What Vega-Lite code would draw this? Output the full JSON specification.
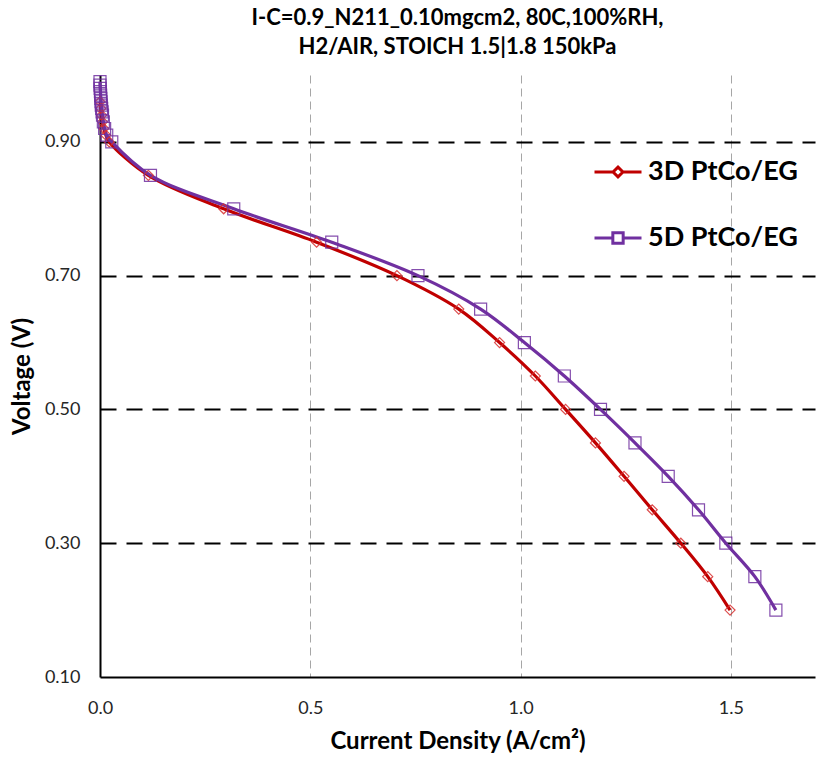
{
  "$schema": "https://vega.github.io/schema/vega-lite/v6.json",
  "autosize": "none",
  "padding": {"left": 100, "top": 75, "right": 10, "bottom": 86},
  "width": 715,
  "height": 602,
  "background": "white",
  "title": {
    "text": ["I-C=0.9_N211_0.10mgcm2, 80C,100%RH,", "H2/AIR, STOICH 1.5|1.8 150kPa"],
    "font": "Lato",
    "fontSize": 22,
    "fontWeight": "bold",
    "color": "#000000",
    "anchor": "middle",
    "offset": 14,
    "lineHeight": 29
  },
  "config": {
    "view": {"stroke": null},
    "axis": {"labelFont": "Lato", "titleFont": "Lato", "labelColor": "#262626", "titleColor": "#000000"}
  },
  "data": {
    "values": [
      {"series": "3D PtCo/EG", "current": 0.000, "voltage": 0.96},
      {"series": "3D PtCo/EG", "current": 0.002, "voltage": 0.95},
      {"series": "3D PtCo/EG", "current": 0.004, "voltage": 0.94},
      {"series": "3D PtCo/EG", "current": 0.006, "voltage": 0.93},
      {"series": "3D PtCo/EG", "current": 0.009, "voltage": 0.92},
      {"series": "3D PtCo/EG", "current": 0.014, "voltage": 0.91},
      {"series": "3D PtCo/EG", "current": 0.022, "voltage": 0.90},
      {"series": "3D PtCo/EG", "current": 0.115, "voltage": 0.85},
      {"series": "3D PtCo/EG", "current": 0.294, "voltage": 0.80},
      {"series": "3D PtCo/EG", "current": 0.515, "voltage": 0.75},
      {"series": "3D PtCo/EG", "current": 0.706, "voltage": 0.70},
      {"series": "3D PtCo/EG", "current": 0.853, "voltage": 0.65},
      {"series": "3D PtCo/EG", "current": 0.950, "voltage": 0.60},
      {"series": "3D PtCo/EG", "current": 1.035, "voltage": 0.55},
      {"series": "3D PtCo/EG", "current": 1.107, "voltage": 0.50},
      {"series": "3D PtCo/EG", "current": 1.178, "voltage": 0.45},
      {"series": "3D PtCo/EG", "current": 1.246, "voltage": 0.40},
      {"series": "3D PtCo/EG", "current": 1.313, "voltage": 0.35},
      {"series": "3D PtCo/EG", "current": 1.381, "voltage": 0.30},
      {"series": "3D PtCo/EG", "current": 1.445, "voltage": 0.25},
      {"series": "3D PtCo/EG", "current": 1.498, "voltage": 0.20},
      {"series": "5D PtCo/EG", "current": 0.000, "voltage": 0.99},
      {"series": "5D PtCo/EG", "current": 0.000, "voltage": 0.985},
      {"series": "5D PtCo/EG", "current": 0.0005, "voltage": 0.98},
      {"series": "5D PtCo/EG", "current": 0.001, "voltage": 0.975},
      {"series": "5D PtCo/EG", "current": 0.0015, "voltage": 0.97},
      {"series": "5D PtCo/EG", "current": 0.002, "voltage": 0.965},
      {"series": "5D PtCo/EG", "current": 0.0025, "voltage": 0.96},
      {"series": "5D PtCo/EG", "current": 0.003, "voltage": 0.955},
      {"series": "5D PtCo/EG", "current": 0.004, "voltage": 0.95},
      {"series": "5D PtCo/EG", "current": 0.005, "voltage": 0.945},
      {"series": "5D PtCo/EG", "current": 0.006, "voltage": 0.94},
      {"series": "5D PtCo/EG", "current": 0.008, "voltage": 0.93},
      {"series": "5D PtCo/EG", "current": 0.011, "voltage": 0.92},
      {"series": "5D PtCo/EG", "current": 0.016, "voltage": 0.91},
      {"series": "5D PtCo/EG", "current": 0.028, "voltage": 0.90},
      {"series": "5D PtCo/EG", "current": 0.120, "voltage": 0.85},
      {"series": "5D PtCo/EG", "current": 0.318, "voltage": 0.80},
      {"series": "5D PtCo/EG", "current": 0.551, "voltage": 0.75},
      {"series": "5D PtCo/EG", "current": 0.756, "voltage": 0.70},
      {"series": "5D PtCo/EG", "current": 0.905, "voltage": 0.65},
      {"series": "5D PtCo/EG", "current": 1.009, "voltage": 0.60},
      {"series": "5D PtCo/EG", "current": 1.104, "voltage": 0.55},
      {"series": "5D PtCo/EG", "current": 1.190, "voltage": 0.50},
      {"series": "5D PtCo/EG", "current": 1.272, "voltage": 0.45},
      {"series": "5D PtCo/EG", "current": 1.351, "voltage": 0.40},
      {"series": "5D PtCo/EG", "current": 1.423, "voltage": 0.35},
      {"series": "5D PtCo/EG", "current": 1.488, "voltage": 0.30},
      {"series": "5D PtCo/EG", "current": 1.557, "voltage": 0.25},
      {"series": "5D PtCo/EG", "current": 1.607, "voltage": 0.20}
    ]
  },
  "encoding": {
    "x": {
      "field": "current",
      "type": "quantitative",
      "scale": {"domain": [0, 1.7], "nice": false, "zero": false},
      "axis": {
        "title": "Current Density (A/cm²)",
        "values": [0, 0.5, 1.0, 1.5],
        "format": ".1f",
        "labelFontSize": 18,
        "labelPadding": 22,
        "labelFlush": false,
        "ticks": false,
        "domainColor": "#000000",
        "domainWidth": 2,
        "grid": true,
        "gridColor": {"condition": {"test": "datum.value === 0", "value": "transparent"}, "value": "#a6a6a6"},
        "gridDash": [8, 5],
        "gridWidth": 1,
        "titleFontSize": 24,
        "titleFontWeight": "bold",
        "titlePadding": 12
      }
    },
    "y": {
      "field": "voltage",
      "type": "quantitative",
      "scale": {"domain": [0.1, 1.0], "nice": false, "zero": false},
      "axis": {
        "title": "Voltage (V)",
        "values": [0.1, 0.3, 0.5, 0.7, 0.9],
        "format": ".2f",
        "labelFontSize": 18,
        "labelPadding": 20,
        "labelFlush": false,
        "ticks": false,
        "domainColor": "#000000",
        "domainWidth": 2,
        "grid": true,
        "gridColor": {"condition": {"test": "datum.value < 0.15", "value": "transparent"}, "value": "#000000"},
        "gridDash": [16, 10],
        "gridWidth": 2,
        "titleFontSize": 24,
        "titleFontWeight": "bold",
        "titlePadding": 10
      }
    }
  },
  "layer": [
    {
      "mark": {"type": "line", "strokeWidth": 3.2, "interpolate": "catmull-rom"},
      "encoding": {
        "order": {"field": "voltage", "sort": "descending"},
        "color": {
          "field": "series",
          "type": "nominal",
          "scale": {"domain": ["3D PtCo/EG", "5D PtCo/EG"], "range": ["#C00000", "#7030A0"]},
          "legend": {
            "orient": "none",
            "legendX": 493,
            "legendY": 72,
            "title": null,
            "labelFont": "Lato",
            "labelFontSize": 27,
            "labelFontWeight": "bold",
            "labelColor": "#000000",
            "labelOffset": 5,
            "rowPadding": 28,
            "symbolSize": 2209,
            "symbolStrokeWidth": 3,
            "encode": {
              "symbols": {
                "update": {
                  "shape": {"signal": "datum.value === '3D PtCo/EG' ? 'M-1,0H-0.21M0.21,0H1M0,-0.21L0.21,0L0,0.21L-0.21,0Z' : 'M-1,0H-0.22M0.22,0H1M-0.22,-0.22H0.22V0.22H-0.22Z'"},
                  "fill": {"value": "transparent"}
                }
              }
            }
          }
        }
      }
    },
    {
      "mark": {"type": "point", "filled": false, "strokeWidth": 1.2, "opacity": 0.85},
      "encoding": {
        "stroke": {
          "condition": {"test": "datum.series === '3D PtCo/EG'", "value": "#D83030"},
          "value": "#7030A0"
        },
        "shape": {
          "condition": {"test": "datum.series === '3D PtCo/EG'", "value": "diamond"},
          "value": "square"
        },
        "size": {
          "condition": {"test": "datum.series === '3D PtCo/EG'", "value": 100},
          "value": 144
        }
      }
    }
  ]
}
